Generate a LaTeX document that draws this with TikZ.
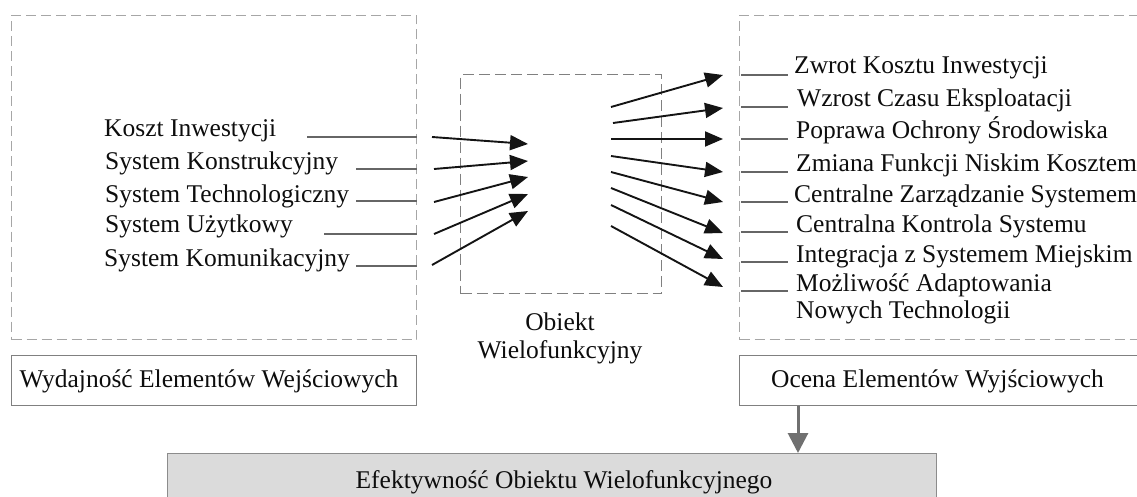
\documentclass[tikz,border=0pt]{standalone}
\usepackage{fontspec}
\setmainfont{Liberation Serif}
\usetikzlibrary{arrows.meta}
\begin{document}
\begin{tikzpicture}[x=1pt,y=-1pt,
  lbl/.style={anchor=base west,inner sep=0pt,font=\fontsize{25.5}{30}\selectfont,text=black!95},
  clbl/.style={anchor=base,inner sep=0pt,font=\fontsize{25.5}{30}\selectfont,text=black!95},
  dashbox/.style={draw=black!35,dash pattern=on 10pt off 5pt,line width=1pt,inner sep=0pt,anchor=north west},
  objbox/.style={draw=black!50,dash pattern=on 11pt off 5pt,line width=1.1pt,inner sep=0pt,anchor=north west},
  labbox/.style={draw=black!50,line width=1.2pt,inner sep=0pt,anchor=north west,minimum height=50pt},
  effbox/.style={draw=black!45,fill=black!14,line width=1.2pt,inner sep=0pt,anchor=north west},
  leader/.style={draw=black!60,line width=1.1pt},
  arr/.style={draw=black!92,line width=1.9pt,-{Triangle[length=18pt,width=15pt]}},
  downarr/.style={draw=black!56,line width=3pt,-{Triangle[length=20pt,width=20pt]}}
]
\useasboundingbox (0,0) rectangle (1137,497);

% frames
\node[dashbox,minimum width=405pt,minimum height=324pt] (inbox) at (11,15) {};
\node[dashbox,minimum width=405pt,minimum height=324pt] (outbox) at (739,15) {};
\node[objbox,minimum width=201pt,minimum height=219pt] (obj) at (460,74) {};

% bottom boxes
\node[labbox,minimum width=405pt] (wyd) at (11,355) {};
\node[clbl] (wydt) at (209,387) {Wydajność Elementów Wejściowych};
\node[labbox,minimum width=401pt] (oc) at (739,355) {};
\node[clbl] (oct) at (937.5,387) {Ocena Elementów Wyjściowych};
\node[effbox,minimum width=769pt,minimum height=60pt] (eff) at (167,453) {};
\node[clbl] (efft) at (564,488) {Efektywność Obiektu Wielofunkcyjnego};
\coordinate (dx) at (798,0);
\draw[downarr] (oc.south -| dx) -- (eff.north -| dx);

% central object label
\node[clbl] (ob1) at (560,330) {Obiekt};
\node[clbl] (ob2) at (560,358) {Wielofunkcyjny};

% input labels
\node[lbl] (i1) at (104,137) {Koszt Inwestycji};
\node[lbl] (i2) at (105,170) {System Konstrukcyjny};
\node[lbl] (i3) at (105,202) {System Technologiczny};
\node[lbl] (i4) at (105,233) {System Użytkowy};
\node[lbl] (i5) at (104,266) {System Komunikacyjny};
\coordinate (l1) at (307,137);
\coordinate (l2) at (356,169);
\coordinate (l3) at (356,201);
\coordinate (l4) at (324,234);
\coordinate (l5) at (356,266);
\foreach \k in {1,...,5} \draw[leader] (l\k) -- (l\k -| inbox.east);

% input arrows
\coordinate (ia1) at (432,137); \coordinate (it1) at (528,144);
\coordinate (ia2) at (434,169); \coordinate (it2) at (528,161);
\coordinate (ia3) at (434,202); \coordinate (it3) at (528,177);
\coordinate (ia4) at (434,234); \coordinate (it4) at (528,194);
\coordinate (ia5) at (432,265); \coordinate (it5) at (528,211);
\foreach \k in {1,...,5} \draw[arr] (ia\k) -- (it\k);

% output labels
\node[lbl] (o1) at (794,74) {Zwrot Kosztu Inwestycji};
\node[lbl] (o2) at (797,107) {Wzrost Czasu Eksploatacji};
\node[lbl] (o3) at (796,139) {Poprawa Ochrony Środowiska};
\node[lbl] (o4) at (796,172) {Zmiana Funkcji Niskim Kosztem};
\node[lbl] (o5) at (794,202) {Centralne Zarządzanie Systemem};
\node[lbl] (o6) at (796,232) {Centralna Kontrola Systemu};
\node[lbl] (o7) at (796,262) {Integracja z Systemem Miejskim};
\node[lbl] (o8) at (796,291) {Możliwość Adaptowania};
\node[lbl] (o9) at (796,318) {Nowych Technologii};
\coordinate (r1) at (788,75);
\coordinate (r2) at (788,107);
\coordinate (r3) at (788,139);
\coordinate (r4) at (788,172);
\coordinate (r5) at (788,202);
\coordinate (r6) at (788,232);
\coordinate (r7) at (788,262);
\coordinate (r8) at (788,291);
\foreach \k in {1,...,8} \draw[leader] ([xshift=2pt]r\k -| outbox.west) -- (r\k);

% output arrows
\coordinate (oa1) at (611,107); \coordinate (ot1) at (723,75);
\coordinate (oa2) at (613,123); \coordinate (ot2) at (723,108);
\coordinate (oa3) at (611,139); \coordinate (ot3) at (723,139);
\coordinate (oa4) at (611,156); \coordinate (ot4) at (723,172);
\coordinate (oa5) at (611,172); \coordinate (ot5) at (723,202);
\coordinate (oa6) at (611,188); \coordinate (ot6) at (723,233);
\coordinate (oa7) at (611,205); \coordinate (ot7) at (723,259);
\coordinate (oa8) at (611,226); \coordinate (ot8) at (723,287);
\foreach \k in {1,...,8} \draw[arr] (oa\k) -- (ot\k);
\end{tikzpicture}
\end{document}
